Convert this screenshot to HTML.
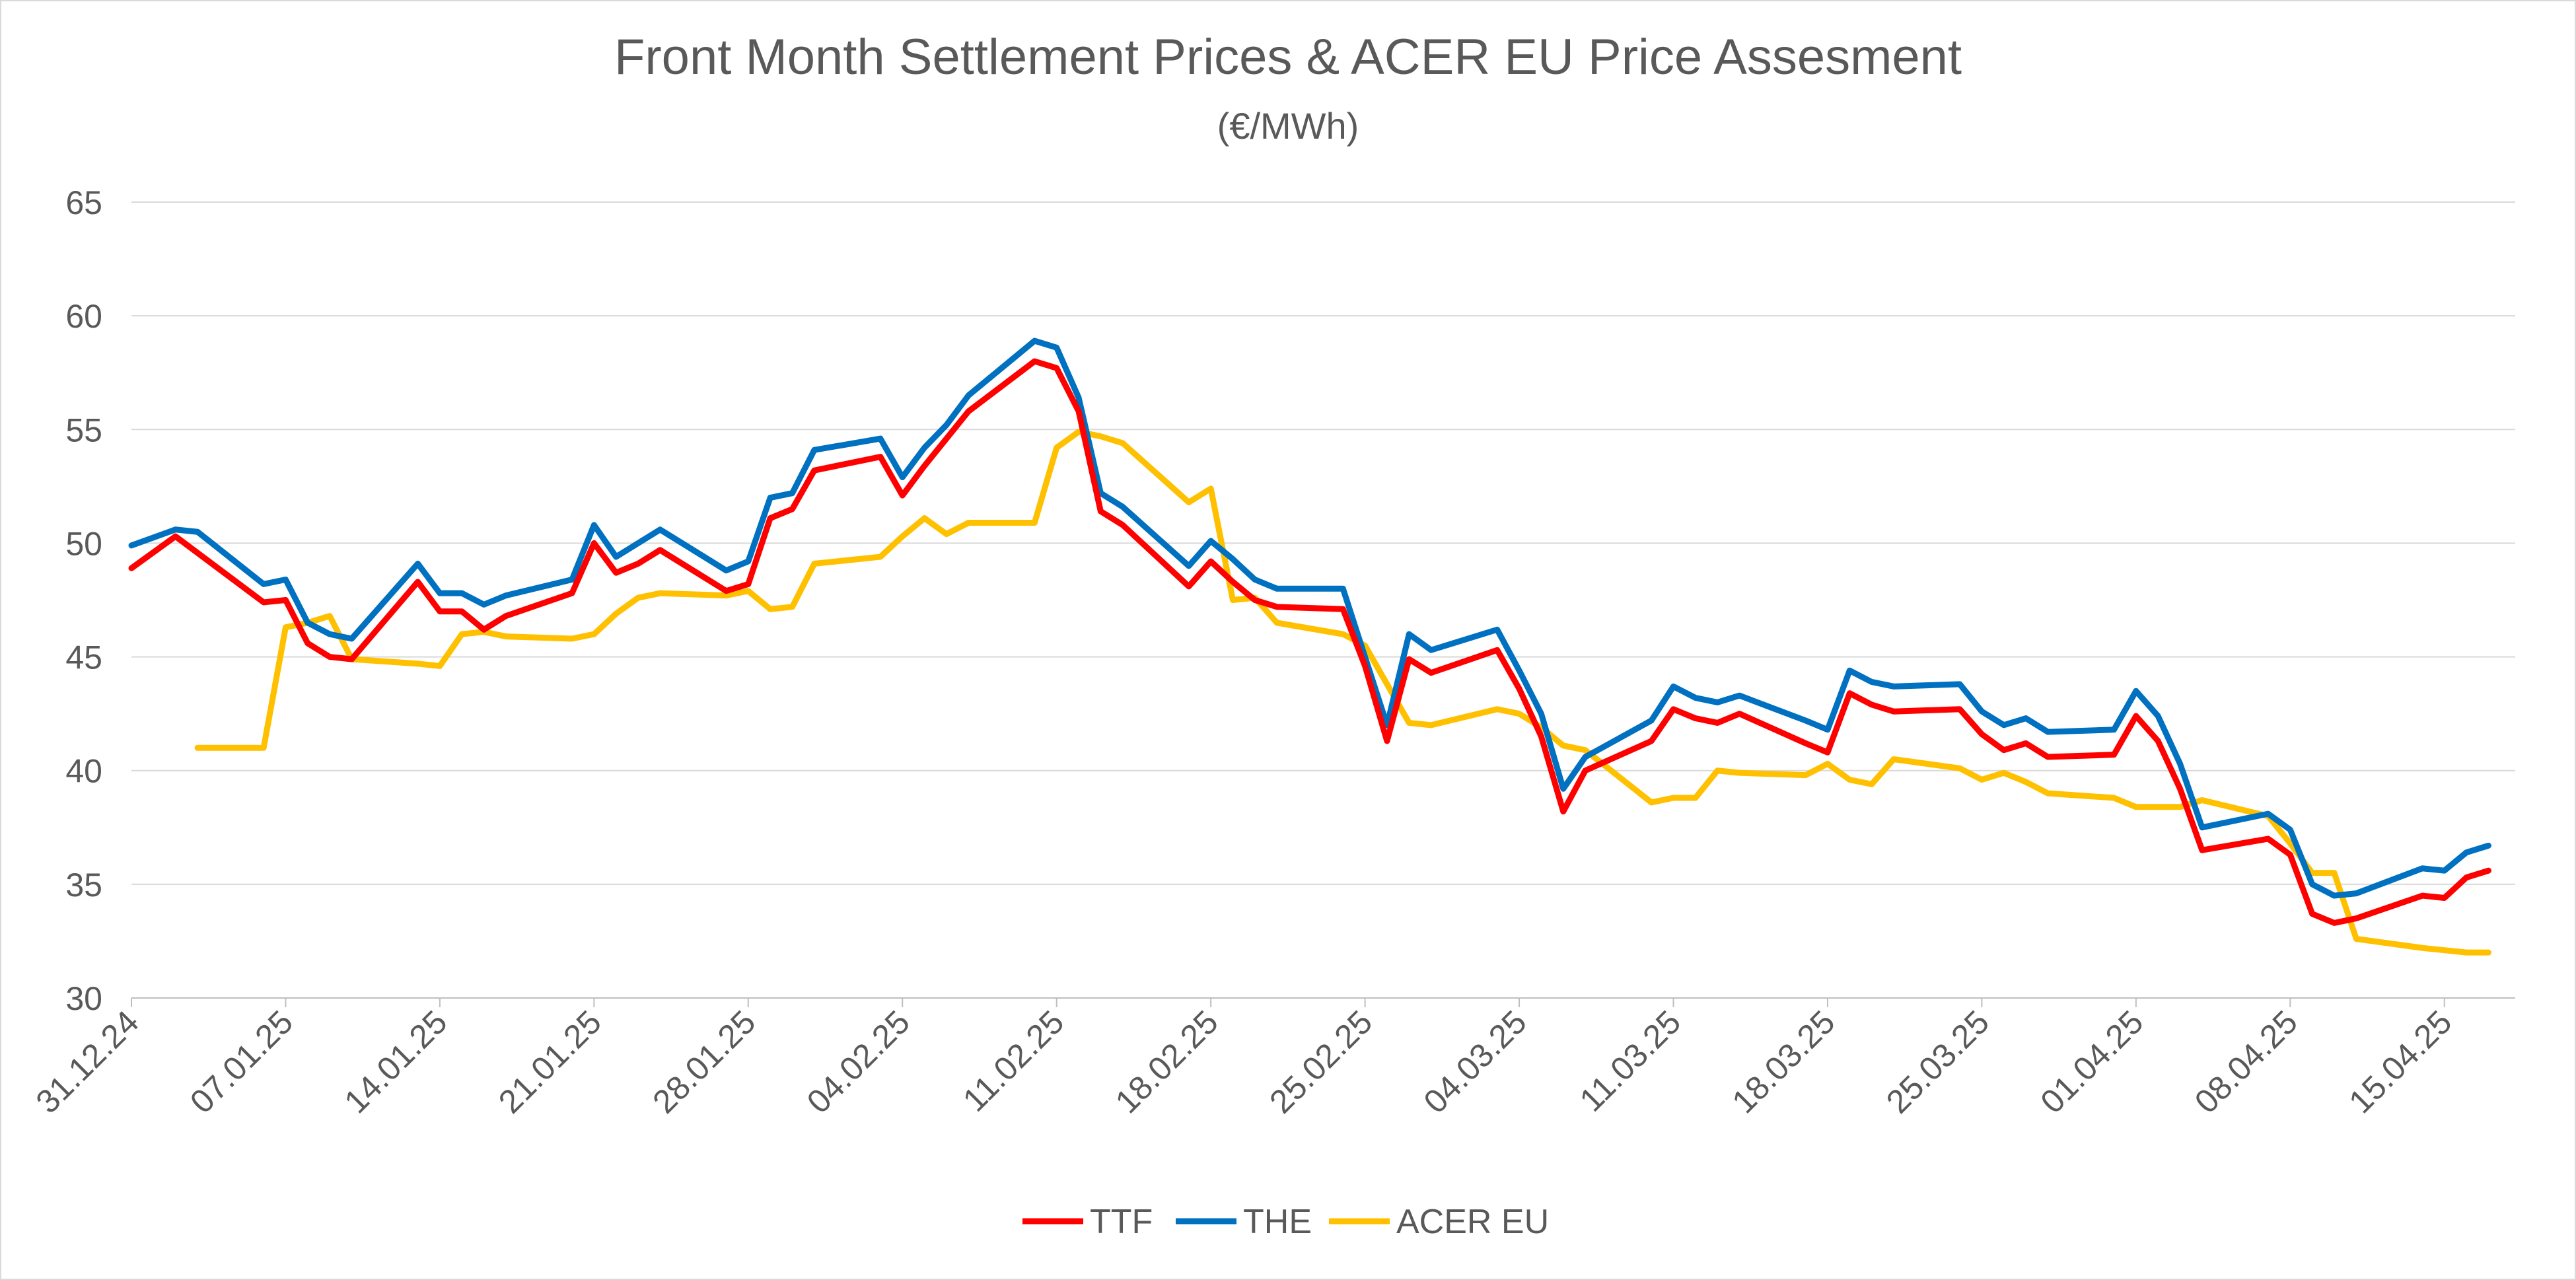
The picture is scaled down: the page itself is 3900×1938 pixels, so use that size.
<!DOCTYPE html>
<html><head><meta charset="utf-8"><style>
html,body{margin:0;padding:0;background:#fff;}
svg{display:block;font-family:"Liberation Sans",sans-serif;}
</style></head><body>
<svg id="chart" width="3900" height="1938" viewBox="0 0 3900 1938" xmlns="http://www.w3.org/2000/svg">
<rect x="1" y="1" width="3898" height="1936" fill="#fff" stroke="#d9d9d9" stroke-width="2"/>
<text x="1950" y="112" text-anchor="middle" font-size="76" fill="#595959">Front Month Settlement Prices &amp; ACER EU Price Assesment</text>
<text x="1950" y="210" text-anchor="middle" font-size="56" fill="#595959">(€/MWh)</text>
<g id="grid"></g><g id="axes"></g><g id="series"></g>
<g>
<g><line x1="1548" y1="1849" x2="1640" y2="1849" stroke="#ff0000" stroke-width="9"/><text x="1650" y="1867" font-size="52" fill="#595959">TTF</text></g>
<g><line x1="1780" y1="1849" x2="1872" y2="1849" stroke="#0070c0" stroke-width="9"/><text x="1882" y="1867" font-size="52" fill="#595959">THE</text></g>
<g><line x1="2012" y1="1849" x2="2104" y2="1849" stroke="#ffc000" stroke-width="9"/><text x="2114" y="1867" font-size="52" fill="#595959">ACER EU</text></g>
</g>
</svg>
<script>
const yTicks=[30,35,40,45,50,55,60,65];
const xTickLabels=["31.12.24","07.01.25","14.01.25","21.01.25","28.01.25","04.02.25","11.02.25","18.02.25","25.02.25","04.03.25","11.03.25","18.03.25","25.03.25","01.04.25","08.04.25","15.04.25"];
const ttfDays=[0,2,6,7,8,9,10,13,14,15,16,17,20,21,22,23,24,27,28,29,30,31,34,35,36,37,38,41,42,43,44,45,48,49,50,51,52,55,56,57,58,59,62,63,64,65,66,69,70,71,72,73,76,77,78,79,80,83,84,85,86,87,90,91,92,93,94,97,98,99,100,101,104,105,106,107];
const ttfValues=[48.9,50.3,47.4,47.5,45.6,45.0,44.9,48.3,47.0,47.0,46.2,46.8,47.8,50.0,48.7,49.1,49.7,47.9,48.2,51.1,51.5,53.2,53.8,52.1,53.4,54.6,55.8,58.0,57.7,55.8,51.4,50.8,48.1,49.2,48.3,47.5,47.2,47.1,44.6,41.3,44.9,44.3,45.3,43.6,41.5,38.2,40.0,41.3,42.7,42.3,42.1,42.5,41.2,40.8,43.4,42.9,42.6,42.7,41.6,40.9,41.2,40.6,40.7,42.4,41.3,39.2,36.5,37.0,36.3,33.7,33.3,33.5,34.5,34.4,35.3,35.6];
const theDays=[0,2,3,6,7,8,9,10,13,14,15,16,17,20,21,22,23,24,27,28,29,30,31,34,35,36,37,38,41,42,43,44,45,48,49,50,51,52,55,56,57,58,59,62,63,64,65,66,69,70,71,72,73,76,77,78,79,80,83,84,85,86,87,90,91,92,93,94,97,98,99,100,101,104,105,106,107];
const theValues=[49.9,50.6,50.5,48.2,48.4,46.5,46.0,45.8,49.1,47.8,47.8,47.3,47.7,48.4,50.8,49.4,50.0,50.6,48.8,49.2,52.0,52.2,54.1,54.6,52.9,54.2,55.2,56.5,58.9,58.6,56.4,52.2,51.6,49.0,50.1,49.3,48.4,48.0,48.0,45.0,42.0,46.0,45.3,46.2,44.4,42.5,39.2,40.6,42.2,43.7,43.2,43.0,43.3,42.2,41.8,44.4,43.9,43.7,43.8,42.6,42.0,42.3,41.7,41.8,43.5,42.4,40.3,37.5,38.1,37.4,35.0,34.5,34.6,35.7,35.6,36.4,36.7];
const acerDays=[3,6,7,8,9,10,13,14,15,16,17,20,21,22,23,24,27,28,29,30,31,34,35,36,37,38,41,42,43,44,45,48,49,50,51,52,55,56,57,58,59,62,63,64,65,66,69,70,71,72,73,76,77,78,79,80,83,84,85,86,87,90,91,92,93,94,97,98,99,100,101,104,105,106,107];
const acerValues=[41.0,41.0,46.3,46.5,46.8,44.9,44.7,44.6,46.0,46.1,45.9,45.8,46.0,46.9,47.6,47.8,47.7,47.9,47.1,47.2,49.1,49.4,50.3,51.1,50.4,50.9,50.9,54.2,54.9,54.7,54.4,51.8,52.4,47.5,47.6,46.5,46.0,45.5,43.8,42.1,42.0,42.7,42.5,41.9,41.1,40.9,38.6,38.8,38.8,40.0,39.9,39.8,40.3,39.6,39.4,40.5,40.1,39.6,39.9,39.5,39.0,38.8,38.4,38.4,38.4,38.7,38.0,36.8,35.5,35.5,32.6,32.2,32.1,32.0,32.0];

const NS="http://www.w3.org/2000/svg";
const L=199,R=3808,Y65=306,Y30=1511,DX=33.35;
const xs=d=>L+d*DX;
const ys=v=>Y30-(v-30)*(Y30-Y65)/35;
const grid=document.getElementById('grid'),axes=document.getElementById('axes'),ser=document.getElementById('series');
function mk(tag,attrs,parent){const e=document.createElementNS(NS,tag);for(const k in attrs)e.setAttribute(k,attrs[k]);parent.appendChild(e);return e;}
yTicks.forEach(v=>{
  if(v!==30){const g=mk('line',{x1:L,x2:R,y1:ys(v),y2:ys(v),stroke:'#d9d9d9','stroke-width':2},grid);
  
  }
  const t=mk('text',{x:155,y:ys(v)+18,'text-anchor':'end','font-size':50,fill:'#595959'},axes);
  t.textContent=v;
  
  
});
const ax=mk('line',{x1:L,x2:R,y1:Y30,y2:Y30,stroke:'#bfbfbf','stroke-width':2},axes);


xTickLabels.forEach((lab,i)=>{
  const x=xs(i*7);
  const tk=mk('line',{x1:x,x2:x,y1:Y30,y2:Y30+14,stroke:'#bfbfbf','stroke-width':2},axes);
  
  
  const t=mk('text',{x:x+14,y:Y30+40,'text-anchor':'end','font-size':50,fill:'#595959',transform:`rotate(-45 ${x+14} ${Y30+40})`},axes);
  t.textContent=lab;
  
  
});
function line(days,vals,color,name){
  const p=mk('polyline',{points:days.map((d,i)=>xs(d)+','+ys(vals[i])).join(' '),fill:'none',stroke:color,'stroke-width':9,'stroke-linejoin':'round','stroke-linecap':'round'},ser);
  
  
}
line(acerDays,acerValues,'#ffc000','acer-eu-line');
line(theDays,theValues,'#0070c0','the-line');
line(ttfDays,ttfValues,'#ff0000','ttf-line');
</script>
</body></html>
